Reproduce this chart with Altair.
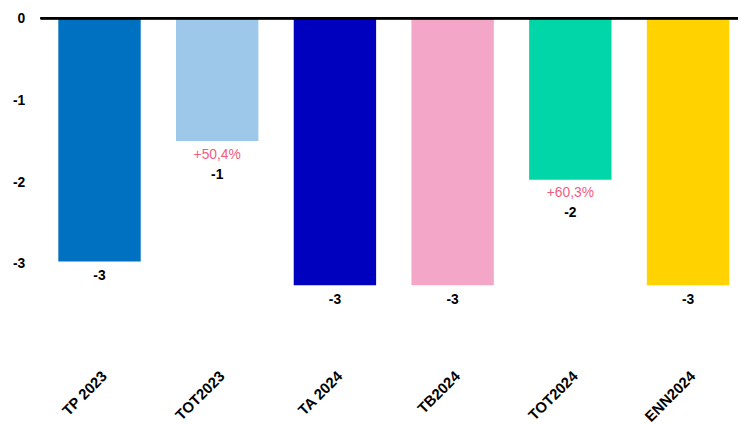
import altair as alt
import pandas as pd

categories = ["TP 2023", "TOT2023", "TA 2024", "TB2024", "TOT2024", "ENN2024"]
values = [-2.97, -1.50, -3.26, -3.26, -1.97, -3.26]
value_labels = ["-3", "-1", "-3", "-3", "-2", "-3"]
pct_labels = ["", "+50,4%", "", "", "+60,3%", ""]
colors = ["#0070C0", "#9DC8EA", "#0000BF", "#F4A6C8", "#00D6A8", "#FFD200"]

df = pd.DataFrame({
    "cat": categories,
    "val": values,
    "vlab": value_labels,
    "plab": pct_labels,
    "has_pct": [p != "" for p in pct_labels],
})

FONT = "Liberation Sans"
W, H = 696, 348

x = alt.X("cat:N", sort=categories, title=None,
          scale=alt.Scale(paddingInner=0.3, paddingOuter=0.0745),
          axis=alt.Axis(labelAngle=-45, labelFont=FONT, labelFontSize=15,
                        labelFontWeight="bold", labelColor="black",
                        ticks=False, domain=False, labelPadding=6))
y = alt.Y("val:Q", title=None,
          scale=alt.Scale(domain=[-4.2, 0], nice=False, zero=True),
          axis=alt.Axis(values=[0, -1, -2, -3], labelExpr="'' + datum.value",
                        labelFont=FONT, labelFontSize=14,
                        labelFontWeight="bold", labelColor="black",
                        ticks=False, domain=False, grid=False, labelPadding=25))

bars = alt.Chart(df).mark_bar().encode(
    x=x, y=y,
    color=alt.Color("cat:N", sort=categories,
                    scale=alt.Scale(domain=categories, range=colors), legend=None),
)

vtext_plain = alt.Chart(df).transform_filter("!datum.has_pct").mark_text(
    font=FONT, fontSize=14, fontWeight="bold", color="black", baseline="middle", dy=15
).encode(x=alt.X("cat:N", sort=categories), y="val:Q", text="vlab:N")

vtext_pct = alt.Chart(df).transform_filter("datum.has_pct").mark_text(
    font=FONT, fontSize=14, fontWeight="bold", color="black", baseline="middle", dy=34
).encode(x=alt.X("cat:N", sort=categories), y="val:Q", text="vlab:N")

ptext = alt.Chart(df).transform_filter("datum.has_pct").mark_text(
    font=FONT, fontSize=14, color="#F25C7E", baseline="middle", dy=14
).encode(x=alt.X("cat:N", sort=categories), y="val:Q", text="plab:N")

zero = alt.Chart(df).mark_rule(color="black", strokeWidth=2).encode(
    y=alt.datum(0), x=alt.value(-9), x2=alt.value(W))

chart = alt.layer(bars, vtext_plain, vtext_pct, ptext, zero).properties(
    width=W, height=H,
    autosize=alt.AutoSizeParams(type="none"),
    padding={"left": 42, "top": 8, "right": 0, "bottom": 60},
).configure_view(stroke=None)

chart.save("out.html", embed_options={"renderer": "svg", "actions": False})
